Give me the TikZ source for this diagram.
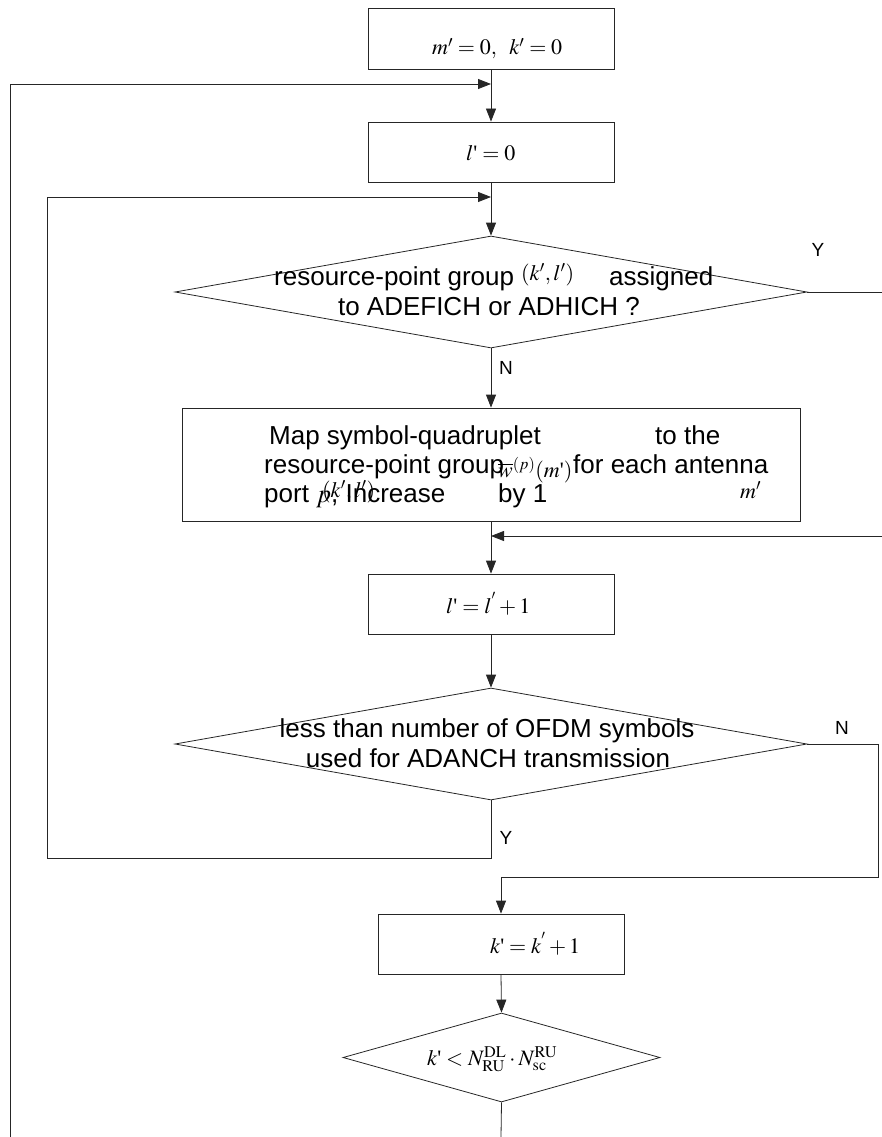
\documentclass[tikz,border=0pt]{standalone}
\usepackage{mathptmx}
\usepackage{fontspec}
\setmainfont{Liberation Sans}
\newfontfamily\tms{Liberation Serif}
\newcommand{\sq}{\mbox{\tms\fontsize{22}{26}\selectfont '}}
\usetikzlibrary{arrows.meta,shapes.geometric}
\begin{document}
\begin{tikzpicture}[x=1pt,y=-1pt,
  line/.style={draw=black!85,line width=0.8pt},
  arr/.style={line,-{Triangle[length=13pt,width=10pt,fill=black!85]}},
  box/.style={line,rectangle,inner sep=0pt},
  dia/.style={line,diamond,inner sep=0pt},
  txt/.style={inner sep=0pt,anchor=base west,font=\fontsize{26}{30}\selectfont},
  txtc/.style={inner sep=0pt,anchor=base,font=\fontsize{26}{30}\selectfont},
  mth/.style={inner sep=0pt,anchor=base west,font=\fontsize{22}{26}\selectfont},
  lbl/.style={inner sep=0pt,font=\fontsize{19}{22}\selectfont}]
\useasboundingbox (0,0) rectangle (882,1137);
% boxes
\node[box,minimum width=246pt,minimum height=61pt] (b1) at (491,38.5) {};
\node[box,minimum width=246pt,minimum height=60pt] (b2) at (491,152) {};
\node[dia,minimum width=632pt,minimum height=112pt] (d1) at (491,292) {};
\node[box,minimum width=618pt,minimum height=113pt] (b3) at (491,464.5) {};
\node[box,minimum width=246pt,minimum height=60pt] (b4) at (491,604) {};
\node[dia,minimum width=632pt,minimum height=112pt] (d2) at (491,744) {};
\node[box,minimum width=246pt,minimum height=60pt] (b5) at (501,944) {};
\node[dia,minimum width=317pt,minimum height=89pt] (d3) at (501.5,1057.5) {};
% texts
\node[mth] (t1) at (432,55) {$m'=0,\;\; k'=0$};
\node[mth] (t2) at (466,160) {$l\sq=0$};
\node[txt] (t3a) at (274,285) {resource-point group};
\node[mth] (t3b) at (521,280) {$(k',l')$};
\node[txt] (t3c) at (609,285) {assigned};
\node[txtc] (t3d) at (489,315) {to ADEFICH or ADHICH ?};
\node[txt] (t4a) at (269,444) {Map symbol-quadruplet};
\node[txt] (t4b) at (655,444) {to the};
\node[txt] (t4c) at (264,473) {resource-point group};
\node[txt] (t4d) at (573,473) {for each antenna};
\node[txt] (t4e) at (264,502) {port $p$, Increase};
\node[txt] (t4f) at (498,502) {by 1};
\node[mth] (t4g) at (498,477) {$\overline{w}^{(p)}(m\sq)$};
\node[mth] (t4h) at (322,497) {$(k',l')$};
\node[mth] (t4i) at (740,498) {$m'$};
\node[mth] (t5) at (446,613) {$l\sq=l^{'}+1$};
\node[txtc] (t6a) at (487,737) {less than number of OFDM symbols};
\node[txtc] (t6b) at (488,767) {used for ADANCH transmission};
\node[mth] (t7) at (490,953) {$k\sq=k^{'}+1$};
\node[mth] (t8) at (427,1065) {$k\sq<N_{\mathrm{RU}}^{\mathrm{DL}}\cdot N_{\mathrm{sc}}^{\mathrm{RU}}$};
% labels
\node[lbl] (yA) at (818,250) {Y};
\node[lbl] (nA) at (506,368) {N};
\node[lbl] (nB) at (842,728) {N};
\node[lbl] (yB) at (506,838) {Y};
% coordinates
\coordinate (j1) at (491,84);
\coordinate (L1) at (10,1137);
\coordinate (j2) at (491,197);
\coordinate (c2) at (491,858);
\coordinate (L2) at (47,858);
\coordinate (R1) at (882,292);
\coordinate (R2) at (882,536);
\coordinate (j3) at (491,536);
\coordinate (c3) at (878,744);
\coordinate (c4) at (878,877);
\coordinate (j4) at (501,877);
\coordinate (E) at (501,1137);
% connectors
\draw[arr] (b1.south) -- (b2.north);
\draw[arr] (L1) |- (j1);
\draw[arr] (b2.south) -- (d1.north);
\draw[line] (d1.east) -- (R1);
\draw[arr] (d1.south) -- (b3.north);
\draw[arr] (b3.south) -- (b4.north);
\draw[arr] (R2) -- (j3);
\draw[arr] (b4.south) -- (d2.north);
\draw[arr] (d2.south) -- (c2) -- (L2) |- (j2);
\draw[line] (d2.east) -- (c3) -- (c4) -- (j4);
\draw[arr] (j4) -- (b5.north);
\draw[arr] (b5.south) -- (d3.north);
\draw[line] (d3.south) -- (E);
\end{tikzpicture}
\end{document}
